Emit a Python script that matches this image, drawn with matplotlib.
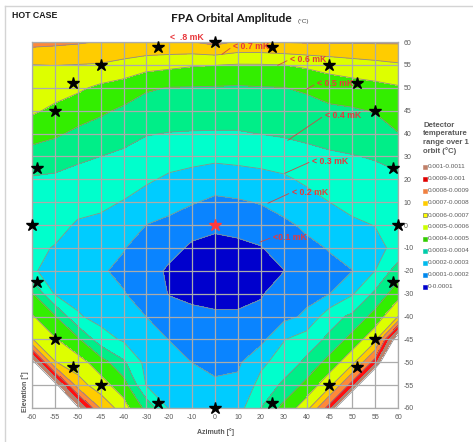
import numpy as np
import matplotlib
matplotlib.use("Agg")
import matplotlib.pyplot as plt
from matplotlib import font_manager as fm
from matplotlib.lines import Line2D
from matplotlib.patches import Rectangle

# ---------------- data ----------------
azimuth = [-60, -55, -50, -45, -40, -30, -20, -10, 0, 10, 20, 30, 40, 45, 50, 55, 60]
elevation_top_down = [60, 55, 50, 45, 40, 30, 20, 10, 0, -10, -20, -30, -40, -45, -50, -55, -60]

# orbital amplitude in mK, rows from elevation 60 (top) to -60 (bottom), columns = azimuth
amplitude_mK = [
    [0.83, 0.82, 0.81, 0.795, 0.79, 0.79, 0.79, 0.798, 0.83, 0.79, 0.79, 0.803, 0.81, 0.81, 0.81, 0.81, 0.81],
    [0.699, 0.702, 0.698, 0.693, 0.669, 0.638, 0.625, 0.609, 0.603, 0.594, 0.595, 0.60, 0.617, 0.638, 0.657, 0.673, 0.689],
    [0.66, 0.641, 0.617, 0.58, 0.556, 0.512, 0.497, 0.495, 0.493, 0.49, 0.495, 0.498, 0.514, 0.544, 0.557, 0.571, 0.59],
    [0.615, 0.58, 0.547, 0.516, 0.484, 0.455, 0.447, 0.445, 0.444, 0.443, 0.449, 0.454, 0.464, 0.481, 0.49, 0.506, 0.544],
    [0.54, 0.516, 0.48, 0.457, 0.432, 0.405, 0.397, 0.394, 0.393, 0.393, 0.402, 0.411, 0.421, 0.433, 0.443, 0.456, 0.497],
    [0.46, 0.44, 0.416, 0.40, 0.383, 0.359, 0.34, 0.329, 0.321, 0.327, 0.335, 0.349, 0.372, 0.387, 0.396, 0.407, 0.428],
    [0.39, 0.385, 0.37, 0.359, 0.339, 0.314, 0.284, 0.268, 0.25, 0.259, 0.27, 0.285, 0.317, 0.343, 0.359, 0.371, 0.385],
    [0.365, 0.36, 0.33, 0.318, 0.296, 0.259, 0.23, 0.208, 0.18, 0.19, 0.206, 0.232, 0.265, 0.30, 0.322, 0.336, 0.35],
    [0.34, 0.33, 0.29, 0.28, 0.251, 0.199, 0.179, 0.136, 0.115, 0.127, 0.15, 0.183, 0.215, 0.253, 0.287, 0.302, 0.33],
    [0.32, 0.295, 0.26, 0.235, 0.205, 0.16, 0.13, 0.085, 0.075, 0.08, 0.095, 0.141, 0.18, 0.205, 0.25, 0.28, 0.32],
    [0.31, 0.27, 0.25, 0.21, 0.18, 0.14, 0.085, 0.065, 0.055, 0.06, 0.085, 0.098, 0.165, 0.18, 0.198, 0.30, 0.45],
    [0.51, 0.29, 0.27, 0.245, 0.205, 0.16, 0.095, 0.085, 0.08, 0.08, 0.093, 0.136, 0.175, 0.198, 0.29, 0.42, 0.56],
    [0.61, 0.51, 0.31, 0.27, 0.246, 0.199, 0.148, 0.116, 0.109, 0.109, 0.12, 0.173, 0.215, 0.36, 0.42, 0.54, 0.70],
    [0.705, 0.61, 0.52, 0.34, 0.287, 0.235, 0.198, 0.158, 0.144, 0.147, 0.17, 0.295, 0.35, 0.42, 0.54, 0.67, 1.2],
    [1.15, 0.705, 0.64, 0.55, 0.415, 0.27, 0.23, 0.199, 0.178, 0.184, 0.28, 0.34, 0.42, 0.54, 0.67, 0.95, 1.6],
    [1.8, 1.15, 0.75, 0.64, 0.547, 0.295, 0.26, 0.235, 0.213, 0.222, 0.33, 0.42, 0.53, 0.67, 0.95, 1.5, 2.2],
    [2.6, 1.8, 1.12, 0.79, 0.643, 0.47, 0.29, 0.27, 0.248, 0.26, 0.40, 0.53, 0.66, 0.95, 1.5, 2.2, 3.0],
]

levels_mK = [0.0, 0.1, 0.2, 0.3, 0.4, 0.5, 0.6, 0.7, 0.8, 0.9, 1.0, 1.1]
band_colors = ["#0000CD", "#0A84FF", "#00CCFF", "#00FFCC", "#00EE88", "#33EE00",
               "#DDFF00", "#FFCC00", "#FF8838", "#FF1010", "#C08068"]

legend_labels = ["0.001-0.0011", "0.0009-0.001", "0.0008-0.0009", "0.0007-0.0008",
                 "0.0006-0.0007", "0.0005-0.0006", "0.0004-0.0005", "0.0003-0.0004",
                 "0.0002-0.0003", "0.0001-0.0002", "0-0.0001"]
legend_colors = ["#C08068", "#E00000", "#F08040", "#FFCC00", "#FFFF00", "#CCFF00",
                 "#33CC00", "#00CCAA", "#00BBEE", "#0088EE", "#0000CC"]

star_az = [0, 25, -25, 45, -45, 51, -51, 55, -55, 59, -59, 60, -60,
           59, -59, 55, -55, 51, -51, 45, -45, 25, -25, 0]
star_el = [60, 59, 59, 55, 55, 51, 51, 45, 45, 25, 25, 0, 0,
           -25, -25, -45, -45, -51, -51, -55, -55, -59, -59, -60]
center_star_az = [0]
center_star_el = [0]

contour_notes = ["<  .8 mK", "< 0.7 mK", "< 0.6 mK", "< 0.5 mK",
                 "< 0.4 mK", "< 0.3 mK", "< 0.2 mK", "<0.1 mK"]

# ---------------- fonts ----------------
names = {f.name for f in fm.fontManager.ttflist}
base = "Liberation Sans" if "Liberation Sans" in names else "DejaVu Sans"
title_font = "Lato" if "Lato" in names else base
plt.rcParams["font.family"] = [base, "DejaVu Sans"]

W, H = 473, 442
fig = plt.figure(figsize=(W / 100, H / 100), dpi=100)
fig.patch.set_facecolor("white")

def fx(px):
    return px / W

def fy(py):
    return 1 - py / H

ax = fig.add_axes([fx(32), fy(408), (398 - 32) / W, (408 - 42) / H])
ax.set_facecolor("white")

elevation = elevation_top_down[::-1]
Z = np.array(amplitude_mK)[::-1]
xi = np.arange(len(azimuth))
yi = np.arange(len(elevation))

ax.contourf(xi, yi, Z, levels=levels_mK, colors=band_colors, zorder=1)
# values above the top level stay blank (white), as in the reference
ax.contourf(xi, yi, Z, levels=[levels_mK[-1], np.max(Z) + 1], colors=["white"], zorder=1.1)
ax.contour(xi, yi, Z, levels=levels_mK[1:], colors="#8c8c8c", linewidths=0.6, zorder=2)

ax.set_xlim(0, len(azimuth) - 1)
ax.set_ylim(0, len(elevation) - 1)
ax.set_xticks(xi)
ax.set_xticklabels([str(a) for a in azimuth])
ax.set_yticks(yi)
ax.set_yticklabels([str(e) for e in elevation])
ax.yaxis.tick_right()
ax.tick_params(length=0, pad=4, labelsize=5, colors="#595959")
ax.set_axisbelow(False)
ax.grid(True, color="#ababab", linewidth=0.9, zorder=3)
for sp in ax.spines.values():
    sp.set_color("#ababab")
    sp.set_linewidth(0.9)

# stars
su = np.interp(star_az, azimuth, xi)
sv = np.interp(star_el, elevation, yi)
ax.plot(su, sv, linestyle="none", marker="*", color="black", markersize=9,
        clip_on=False, zorder=6)
cu = np.interp(center_star_az, azimuth, xi)
cv = np.interp(center_star_el, elevation, yi)
ax.plot(cu, cv, linestyle="none", marker="*", color="#FF3B3B", markersize=9,
        clip_on=False, zorder=6)

# contour annotations (text position, pointer target) in index coordinates
note_text = [(6.03, 16.2), (8.78, 15.81), (11.27, 15.24), (12.45, 14.19),
             (12.79, 12.79), (12.23, 10.79), (11.35, 9.43), (10.52, 7.47)]
note_ptr = [None, (8.30, 15.46), (10.74, 14.98), (12.0, 13.93),
            (11.18, 11.70), (11.05, 10.26), (10.31, 8.95), (9.96, 7.25)]
red = "#E8383D"
for txt, tp, pp in zip(contour_notes, note_text, note_ptr):
    if pp is None:
        ax.text(tp[0], tp[1], txt, color=red, fontsize=6.3, fontweight="bold",
                ha="left", va="center", zorder=7, clip_on=False)
    else:
        ax.annotate(txt, xy=pp, xytext=tp, color=red, fontsize=6.3,
                    fontweight="bold", ha="left", va="center", zorder=7,
                    annotation_clip=False,
                    arrowprops=dict(arrowstyle="-", color="#D04545", lw=0.6,
                                    shrinkA=0, shrinkB=0, relpos=(0, 0.5)))

# titles and labels
fig.text(fx(231), fy(18), "FPA Orbital Amplitude", ha="center", va="center",
         fontsize=8.6, fontweight="bold", color="#1a1a1a", family=[title_font, "DejaVu Sans"])
fig.text(fx(298), fy(21), "(°C)", ha="left", va="center", fontsize=4.6,
         color="#444444")
fig.text(fx(12), fy(16), "HOT CASE", ha="left", va="center", fontsize=6.3,
         fontweight="bold", color="#1a1a1a")
fig.text(fx(215), fy(432), "Azimuth [°]", ha="center", va="center", fontsize=5,
         fontweight="bold", color="#595959")
fig.text(fx(25), fy(392), "Elevation [°]", ha="center", va="center", fontsize=5,
         fontweight="bold", color="#595959", rotation=90)

# legend (manual, as in the reference)
fig.text(fx(423), fy(122), "Detector\ntemperature\nrange over 1\norbit (°C)",
         ha="left", va="top", fontsize=5.6, fontweight="bold", color="#595959",
         linespacing=1.25)
for i, (lab, col) in enumerate(zip(legend_labels, legend_colors)):
    y = 167 + 12 * i
    fig.add_artist(Rectangle((fx(422.5), fy(y + 2)), 4 / W, 4 / H,
                             transform=fig.transFigure, facecolor=col,
                             edgecolor="#555555" if col == "#FFFF00" else col,
                             linewidth=0.4))
    fig.text(fx(428), fy(y), lab, ha="left", va="center", fontsize=4.6,
             color="#595959")

# chart frame
fig.add_artist(Line2D([fx(5), fx(5)], [0, fy(6)], transform=fig.transFigure,
                      color="#d4d4d4", lw=1))
fig.add_artist(Line2D([fx(5), 1], [fy(6), fy(6)], transform=fig.transFigure,
                      color="#d4d4d4", lw=1))

fig.savefig("out.png", dpi=100, facecolor="white")
